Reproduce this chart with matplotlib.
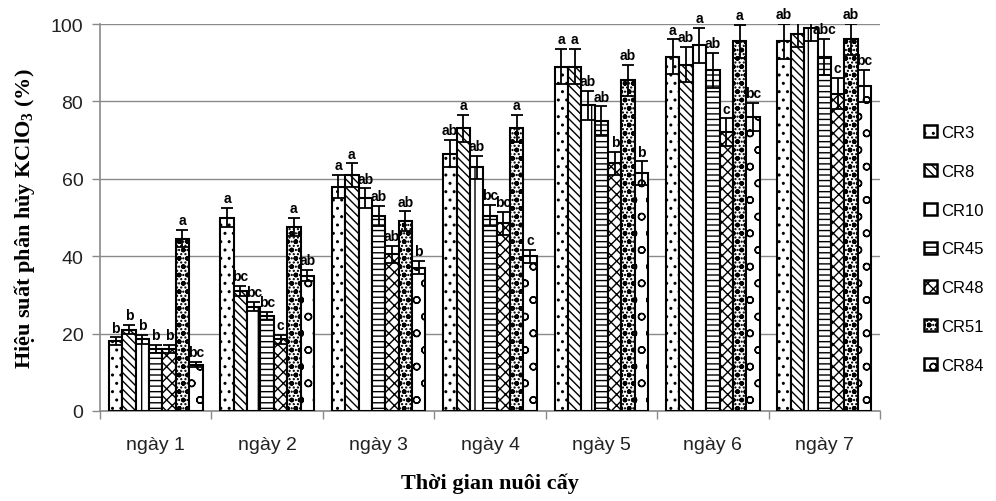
import matplotlib
matplotlib.use("Agg")
import matplotlib.pyplot as plt
from matplotlib.patches import Patch
import numpy as np

days = ['ngày 1', 'ngày 2', 'ngày 3', 'ngày 4', 'ngày 5', 'ngày 6', 'ngày 7']
strains = ['CR3', 'CR8', 'CR10', 'CR45', 'CR48', 'CR51', 'CR84']

cr3 = [18, 50, 58, 66.5, 89, 91.5, 95.5]
cr8 = [21, 31, 61, 73, 89, 89.5, 97.5]
cr10 = [18.5, 27, 55, 63, 79, 94.5, 99]
cr45 = [16, 24.5, 50.5, 50.5, 75, 88, 91.5]
cr48 = [16, 18.5, 40.5, 48.5, 64, 72, 82]
cr51 = [44.5, 47.5, 49, 73, 85.5, 95.5, 96]
cr84 = [12, 35, 37, 40, 61.5, 76, 84]

err_cr3 = [1, 2.5, 3, 3.5, 4.5, 4.5, 4.5]
err_cr8 = [1.2, 1.3, 3, 3.5, 4.5, 4.5, 3.5]
err_cr10 = [1.2, 1.2, 2.5, 3, 3.8, 4.5, 3.5]
err_cr45 = [1, 1.1, 2.6, 2.8, 3.7, 4.5, 4.6]
err_cr48 = [1, 1.1, 2.2, 3, 3, 3.6, 4]
err_cr51 = [2.2, 2.3, 2.6, 3.5, 4, 4.3, 4]
err_cr84 = [0.6, 1.5, 1.7, 1.7, 3, 3.7, 4.2]

lab_cr3 = ['b', 'a', 'a', 'ab', 'a', 'a', 'ab']
lab_cr8 = ['b', 'bc', 'a', 'a', 'a', 'ab', 'a']
lab_cr10 = ['b', 'bc', 'ab', 'ab', 'ab', 'a', 'a']
lab_cr45 = ['b', 'bc', 'ab', 'bc', 'ab', 'ab', 'abc']
lab_cr48 = ['b', 'c', 'ab', 'bc', 'b', 'c', 'c']
lab_cr51 = ['a', 'a', 'ab', 'a', 'ab', 'a', 'ab']
lab_cr84 = ['bc', 'ab', 'b', 'c', 'b', 'bc', 'bc']

values = [cr3, cr8, cr10, cr45, cr48, cr51, cr84]
errors = [err_cr3, err_cr8, err_cr10, err_cr45, err_cr48, err_cr51, err_cr84]
letters = [lab_cr3, lab_cr8, lab_cr10, lab_cr45, lab_cr48, lab_cr51, lab_cr84]

hatches = ['..', '\\\\\\\\', '|', '---', 'xxx', 'oo....', 'o']

plt.rcParams['hatch.linewidth'] = 1.0
plt.rcParams['mathtext.fontset'] = 'custom'
plt.rcParams['mathtext.rm'] = 'Liberation Serif:bold'
plt.rcParams['mathtext.it'] = 'Liberation Serif:bold:italic'
plt.rcParams['mathtext.bf'] = 'Liberation Serif:bold'

fig = plt.figure(figsize=(9.96, 5.02), dpi=100)
ax = fig.add_axes([100/996, 90/502, 780/996, 387/502])

grey = '#8a8a8a'
x = np.arange(len(days)) + 0.5
w = 0.12
for i, (vals, errs, labs, h) in enumerate(zip(values, errors, letters, hatches)):
    pos = x + (i - 3) * w
    ax.bar(pos, vals, width=w, facecolor='white', edgecolor='black',
           linewidth=1.5, hatch=h, zorder=3)
    ax.errorbar(pos, vals, yerr=errs, fmt='none', ecolor='black',
                elinewidth=1.3, capsize=4, capthick=1.3, zorder=4)
    for p, v, e, t in zip(pos, vals, errs, labs):
        ax.annotate(t, (p, v + e), xytext=(0, 2), textcoords='offset points',
                    ha='center', va='bottom', fontsize=10, fontweight='bold',
                    family=['Liberation Sans', 'DejaVu Sans'], zorder=5)

ax.set_xlim(0, 7)
ax.set_ylim(0, 100)
ax.set_yticks(np.arange(0, 101, 20))
ax.yaxis.grid(True, color=grey, linewidth=1.0, zorder=0)
ax.set_axisbelow(True)

ax.set_xticks(np.arange(0, 8))
ax.set_xticklabels([])
ax.set_xticks(x, minor=True)
ax.set_xticklabels(days, minor=True, fontsize=14,
                   family=['Liberation Sans', 'DejaVu Sans'], color='#222222')
ax.tick_params(axis='x', which='minor', length=0, pad=18)
ax.tick_params(axis='x', which='major', length=6, color=grey, width=1)
ax.tick_params(axis='y', length=6, color=grey, width=1, labelsize=14, pad=6,
               labelcolor='#222222')
for lbl in ax.get_yticklabels():
    lbl.set_family(['Liberation Sans', 'DejaVu Sans'])

for s in ['top', 'right']:
    ax.spines[s].set_visible(False)
for s in ['left', 'bottom']:
    ax.spines[s].set_color(grey)
    ax.spines[s].set_linewidth(1.2)

ax.set_ylabel('Hiệu suất phân hủy KClO$_3$ (%)', fontsize=16, fontweight='bold',
              family=['Liberation Serif', 'DejaVu Serif'], labelpad=10)
ax.set_xlabel('Thời gian nuôi cấy', fontsize=16, fontweight='bold',
              family=['Liberation Serif', 'DejaVu Serif'], labelpad=14)

handles = [Patch(facecolor='white', edgecolor='black', linewidth=1.8, hatch=h)
           for h in hatches]
fig.legend(handles, strains, loc='upper left', bbox_to_anchor=(909/996, 1 - 111/502),
           frameon=False, handlelength=0.75, handleheight=0.75,
           handletextpad=0.3, labelspacing=1.43,
           prop={'family': ['Liberation Sans', 'DejaVu Sans'], 'size': 12})

fig.savefig('out.png', dpi=100)
